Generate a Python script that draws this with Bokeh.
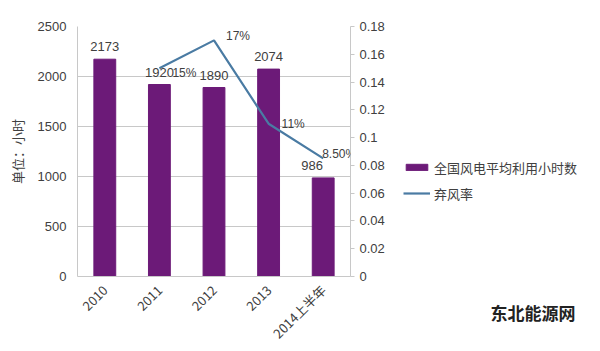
import math
from bokeh.plotting import figure
from bokeh.layouts import row
from bokeh.models import (Range1d, LinearAxis, ColumnDataSource, LabelSet, Legend,
                          LegendItem, FixedTicker, CustomJSTickFormatter, Title)
from bokeh.core.properties import value
from bokeh.embed import file_html
from bokeh.resources import INLINE

categories = ["2010", "2011", "2012", "2013", "2014上半年"]
hours = [2173, 1920, 1890, 2074, 986]
hour_labels = ["2173", "1920", "1890", "2074", "986"]
curtail_cats = ["2011", "2012", "2013", "2014上半年"]
curtail = [0.15, 0.17, 0.11, 0.085]
curtail_labels = ["15%", "17%", "11%", "8.50%"]
left_ticks = [0, 500, 1000, 1500, 2000, 2500]
right_ticks = [0, 0.02, 0.04, 0.06, 0.08, 0.1, 0.12, 0.14, 0.16, 0.18]
series_names = ["全国风电平均利用小时数", "弃风率"]
watermark = "东北能源网"

FONT = "Noto Sans CJK SC"
NUMF = "Liberation Sans"
TXT = "#404040"
BAR = "#6c1a78"
LINE = "#4a7ba3"
GRID = "#c8c8c8"

p = figure(width=400, height=351, x_range=categories, y_range=Range1d(0, 2500),
           output_backend="svg", toolbar_location=None,
           min_border_left=77, min_border_right=50, min_border_top=26, min_border_bottom=70)
p.outline_line_color = None
p.background_fill_color = "white"
p.border_fill_color = "white"
p.extra_y_ranges = {"r": Range1d(0, 0.18)}

src_b = ColumnDataSource(dict(x=categories, y=hours, t=hour_labels,
                              dx=[0, 0, 0, 0, -11]))
bars = p.vbar(x="x", top="y", width=0.4, source=src_b, color=BAR)

src_l = ColumnDataSource(dict(x=curtail_cats, y=curtail, t=curtail_labels,
                              dx=[13, 12, 13, -1], dy=[-5, 4, 0, 4]))
line = p.line(x="x", y="y", source=src_l, color=LINE, line_width=2.2, y_range_name="r")

# axes
p.yaxis.ticker = FixedTicker(ticks=left_ticks)
p.yaxis.axis_line_color = GRID
p.yaxis.major_tick_line_color = None
p.yaxis.minor_tick_line_color = None
p.yaxis.major_label_text_font = NUMF
p.yaxis.major_label_text_font_size = "13px"
p.yaxis.major_label_text_color = TXT
p.yaxis.axis_label = "单位：小时"
p.yaxis.axis_label_text_font = FONT
p.yaxis.axis_label_text_font_style = "normal"
p.yaxis.axis_label_text_font_size = "13px"
p.yaxis.axis_label_text_color = TXT
p.yaxis.axis_label_standoff = 8

ry = LinearAxis(y_range_name="r", ticker=FixedTicker(ticks=right_ticks),
                formatter=CustomJSTickFormatter(code="return String(parseFloat(tick.toFixed(2)));"))
ry.axis_line_color = GRID
ry.major_tick_line_color = GRID
ry.major_tick_out = 4
ry.major_tick_in = 0
ry.minor_tick_line_color = None
ry.major_label_text_font = NUMF
ry.major_label_text_font_size = "13px"
ry.major_label_text_color = TXT
p.add_layout(ry, "right")

p.xaxis.axis_line_color = GRID
p.xaxis.major_tick_line_color = None
p.xaxis.minor_tick_line_color = None
p.xaxis.major_label_orientation = math.pi / 4
p.xaxis.major_label_text_font = FONT
p.xaxis.major_label_text_font_size = "13px"
p.xaxis.major_label_text_color = TXT
p.xgrid.grid_line_color = None
p.ygrid.grid_line_color = GRID
p.ygrid.ticker = FixedTicker(ticks=left_ticks)

# data labels
lb = LabelSet(x="x", y="y", text="t", source=src_b, x_offset="dx", y_offset=8,
              text_align="center", text_baseline="bottom", text_font=value(NUMF),
              text_font_size=value("13px"), text_color=TXT)
p.add_layout(lb)
ll = LabelSet(x="x", y="y", text="t", source=src_l, x_offset="dx", y_offset="dy",
              y_range_name="r", text_align="left", text_baseline="middle", text_font=value(NUMF),
              text_font_size=value("12px"), text_color=TXT)
p.add_layout(ll)

# side panel with legend and watermark (legend proxies lie outside the visible range)
s = figure(width=200, height=351, x_range=Range1d(-21, -20), y_range=Range1d(-21, -20),
           output_backend="svg", toolbar_location=None, x_axis_type=None, y_axis_type=None,
           min_border_left=0, min_border_right=0, min_border_top=26, min_border_bottom=70)
s.outline_line_color = None
s.xgrid.grid_line_color = None
s.ygrid.grid_line_color = None
lg_bar = s.vbar(x=[0], top=[hours[0]], width=0.4, color=BAR)
lg_line = s.line(x=[0, 1], y=curtail[:2], color=LINE, line_width=2.2)
legend = Legend(items=[LegendItem(label=series_names[0], renderers=[lg_bar]),
                       LegendItem(label=series_names[1], renderers=[lg_line])],
                location=(3, 73), orientation="vertical",
                label_text_font=FONT, label_text_font_size="13px", label_text_color=TXT,
                glyph_width=27, glyph_height=8, label_height=20, spacing=6,
                padding=0, margin=0, border_line_color=None, background_fill_alpha=0,
                label_standoff=4)
s.add_layout(legend, "center")
wm = Title(text=watermark, align="left", offset=90, standoff=43, text_font=FONT,
           text_font_size="17px", text_font_style="bold", text_color="#222222")
s.add_layout(wm, "below")

layout = row(p, s, spacing=0)
open("out.html", "w").write(file_html(layout, INLINE))
